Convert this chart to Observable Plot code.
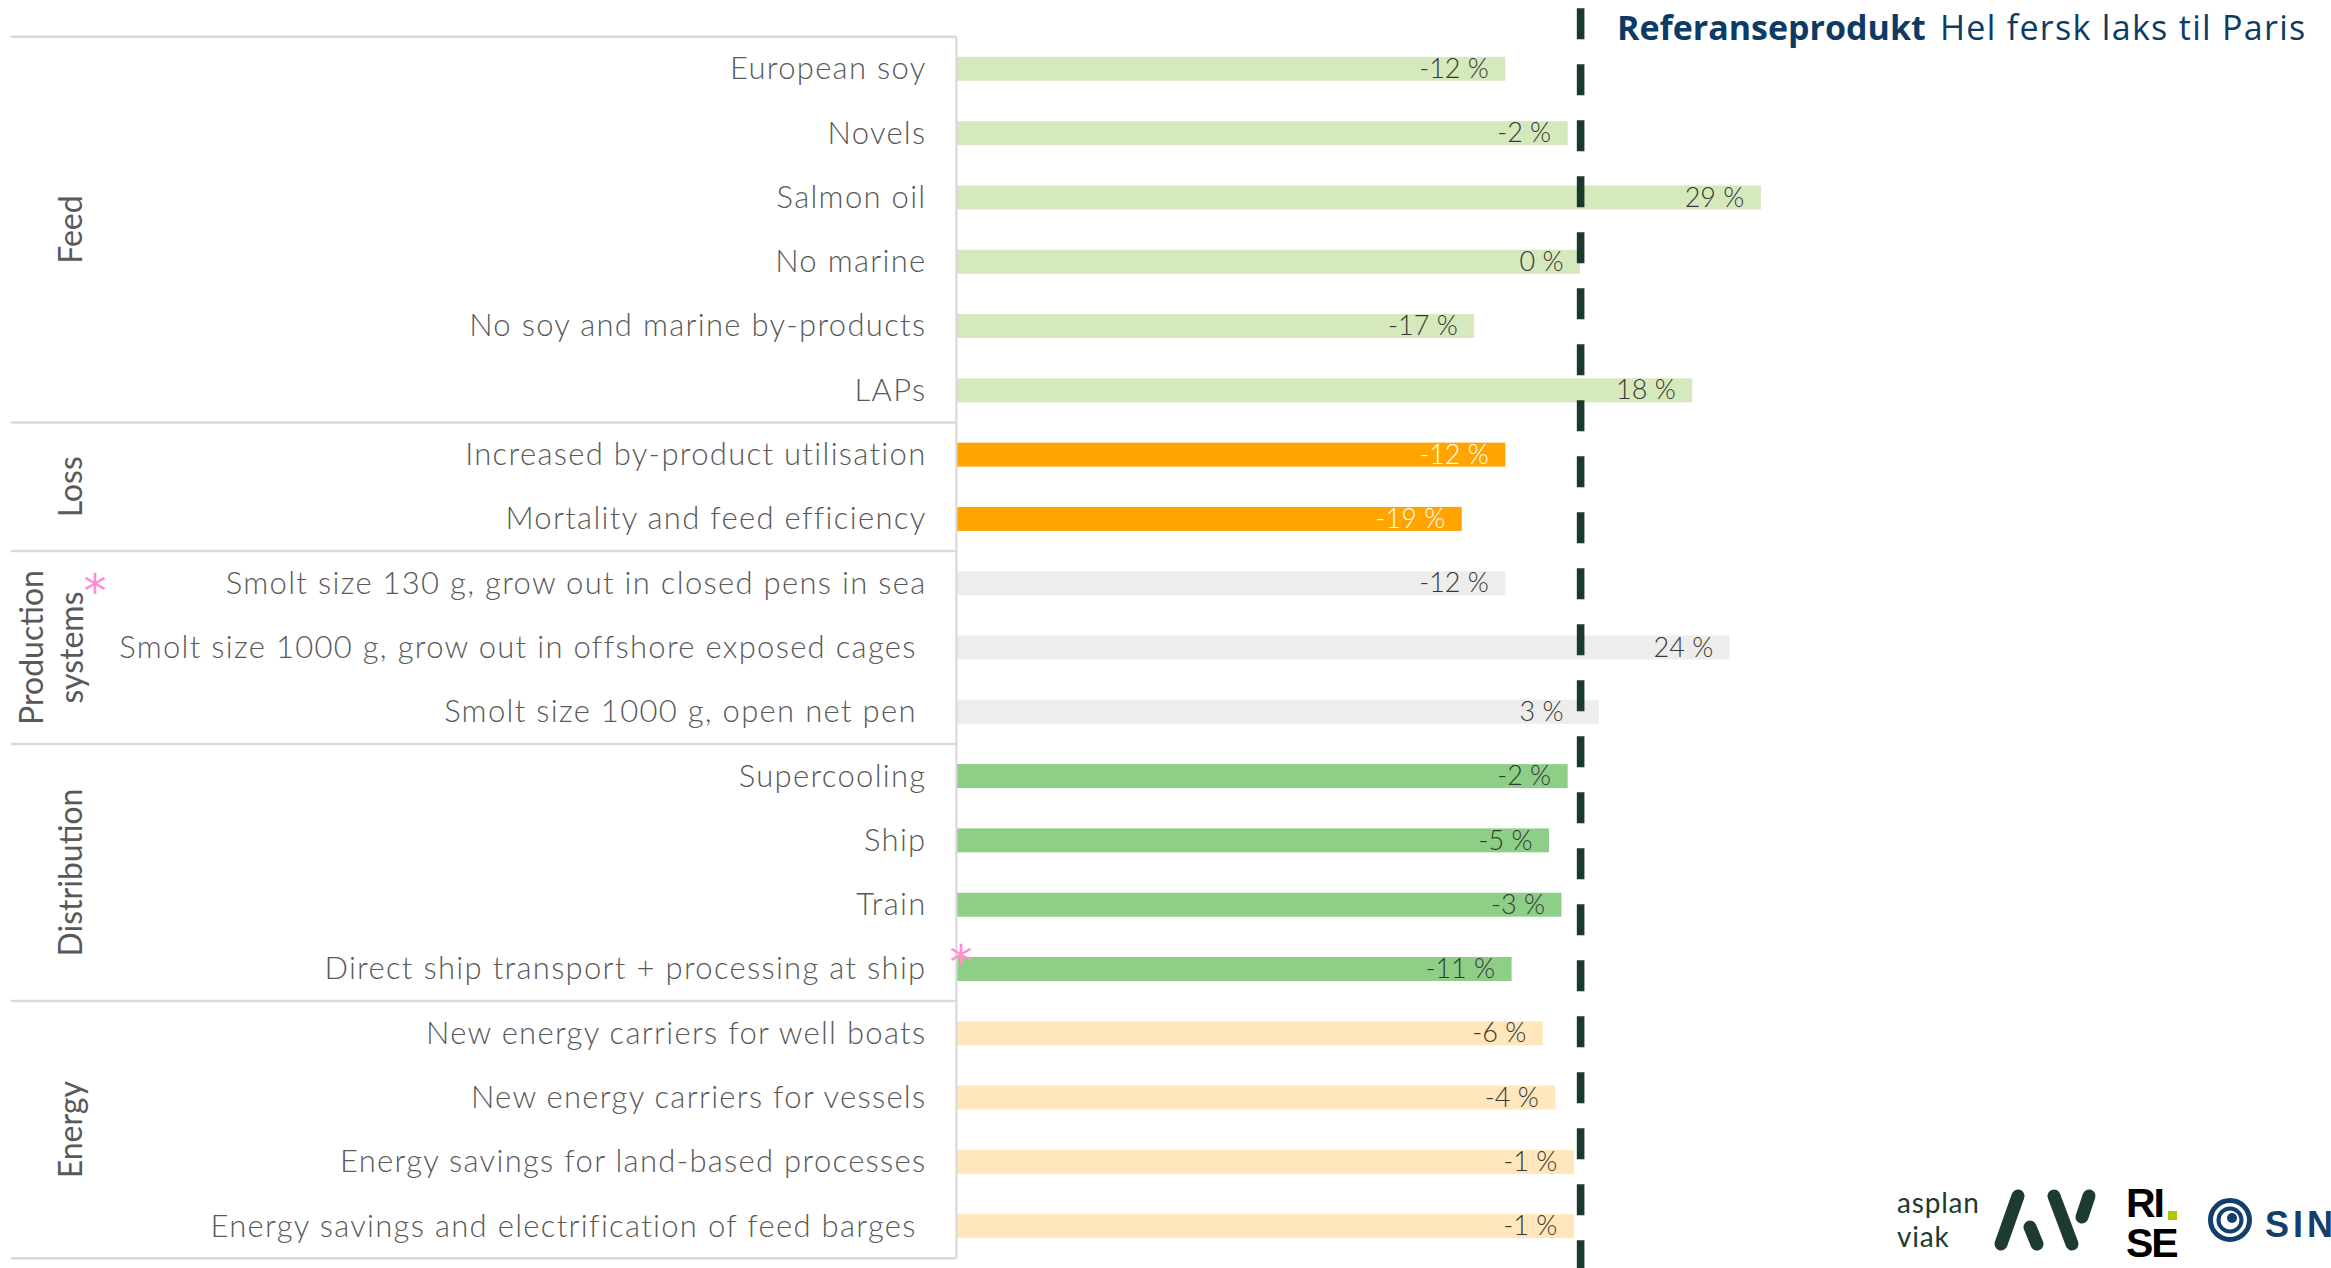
<!DOCTYPE html>
<html><head><meta charset="utf-8">
<script src="https://cdn.jsdelivr.net/npm/d3@7"></script>
<script src="https://cdn.jsdelivr.net/npm/@observablehq/plot@0.6"></script>
<style>
html,body{margin:0;padding:0;background:#fff;}
#chart{position:relative;width:2331px;height:1268px;overflow:hidden;}
svg text{white-space:pre;}
</style></head><body><div id="chart"></div>
<script>
// ---- data ----
const groups = ["Feed", "Loss", "Production systems", "Distribution", "Energy"];
const groupSizes = [6, 2, 3, 4, 4];
const measures = [
  "European soy",
  "Novels",
  "Salmon oil",
  "No marine",
  "No soy and marine by-products",
  "LAPs",
  "Increased by-product utilisation",
  "Mortality and feed efficiency",
  "Smolt size 130 g, grow out in closed pens in sea",
  "Smolt size 1000 g, grow out in offshore exposed cages ",
  "Smolt size 1000 g, open net pen ",
  "Supercooling",
  "Ship",
  "Train",
  "Direct ship transport + processing at ship",
  "New energy carriers for well boats",
  "New energy carriers for vessels",
  "Energy savings for land-based processes",
  "Energy savings and electrification of feed barges "
];
const changes = [-12, -2, 29, 0, -17, 18, -12, -19, -12, 24, 3, -2, -5, -3, -11, -6, -4, -1, -1];
const starred = ["Production systems", "Direct ship transport + processing at ship"];
const referenceLevel = 100;
const titleBold = "Referanseprodukt";
const titleRest = "Hel fersk laks til Paris";

// ---- build table ----
const rowGroup = groups.flatMap((g, i) => Array(groupSizes[i]).fill(g));
const data = measures.map((m, i) => ({measure: m, group: rowGroup[i], change: changes[i], level: referenceLevel + changes[i]}));
// labels of bars ending just past the reference line are kept left of the line
const labelAt = d => (d.level > referenceLevel && d.level < referenceLevel + 5) ? referenceLevel : d.level;

const W = 2331, H = 1268;
const labelGrey = "#595959";
const plot = Plot.plot({
  width: W, height: H,
  marginLeft: 957, marginRight: 0, marginTop: 36.7, marginBottom: 9.7,
  style: {fontFamily: "Lato, sans-serif", background: "white", overflow: "visible"},
  x: {domain: [0, 220.5], axis: null},
  y: {domain: measures, axis: null, paddingInner: 0.627, paddingOuter: 0.3135, round: false},
  color: {domain: groups, range: ["#d5e9bd", "#ffa400", "#edeeeb", "#8dcf86", "#ffe6bb"]},
  marks: [
    Plot.barX(data, {x: "level", y: "measure", fill: "group"}),
    Plot.ruleX([0], {stroke: "#d9d9d9", strokeWidth: 2.2, dx: -1.1}),
    Plot.ruleX([referenceLevel], {stroke: "#1b3a2f", strokeWidth: 7.6, strokeDasharray: "31,25", insetTop: -28.4, insetBottom: -12}),
    Plot.text(data, {x: 0, y: "measure", text: "measure", textAnchor: "end", dx: -31, fontSize: 31, fontWeight: 300, fill: labelGrey}),
    Plot.text(data.filter(d => d.group !== "Loss"), {x: labelAt, y: "measure", text: d => `${d.change} %`, textAnchor: "end", dx: -17, fontSize: 27, fontWeight: 300, fill: "#383838"}),
    Plot.text(data.filter(d => d.group === "Loss"), {x: labelAt, y: "measure", text: d => `${d.change} %`, textAnchor: "end", dx: -17, fontSize: 27, fontWeight: 300, fill: "#ffffff"})
  ]
});
document.getElementById("chart").appendChild(plot);

const svg = d3.select(plot);
const measureSet = new Set(measures);
svg.selectAll("text").filter(function() { return measureSet.has(this.textContent); })
  .style("letter-spacing", "1.3px");

// ---- group separators & labels (positions from the y scale) ----
const ys = plot.scale("y");
const pad = (ys.step - ys.bandwidth) / 2;
let idx = 0;
const bounds = groups.map((g, i) => {
  const first = measures[idx], last = measures[idx + groupSizes[i] - 1];
  idx += groupSizes[i];
  return {g, top: ys.apply(first) - pad, bottom: ys.apply(last) + ys.bandwidth + pad, first};
});
const sepY = [bounds[0].top, ...bounds.map(b => b.bottom)];
const gSep = svg.append("g");
sepY.forEach(y => gSep.append("line").attr("x1", 11).attr("x2", 956).attr("y1", y).attr("y2", y)
  .attr("stroke", "#d9d9d9").attr("stroke-width", 2.5));

const gLab = svg.append("g").attr("font-family", "Lato, sans-serif").attr("font-size", 32).attr("fill", labelGrey);
bounds.forEach(b => {
  const mid = (b.top + b.bottom) / 2;
  const words = b.g === "Production systems" ? ["Production", "systems"] : [b.g];
  const baseX = words.length === 1 ? [82] : [43, 83];
  words.forEach((w, k) => {
    gLab.append("text").attr("transform", `translate(${baseX[k]},${mid}) rotate(-90)`)
      .attr("text-anchor", "middle").text(w);
  });
});

// asterisks
const gStar = svg.append("g").attr("font-family", "'DejaVu Sans', sans-serif").attr("font-size", 46).attr("fill", "#ff8fd2").attr("text-anchor", "middle");
const prod = bounds.find(b => b.g === starred[0]);
gStar.append("text").attr("x", 95).attr("y", prod.top + 31 + 25).text("*");
const dRow = ys.apply(starred[1]);
gStar.append("text").attr("x", 961).attr("y", dRow - 4 + 25).text("*");

// ---- title ----
const t = svg.append("text").attr("x", 1617).attr("y", 40).attr("text-anchor", "start").attr("font-family", "'Open Sans', sans-serif")
  .attr("font-size", 34).attr("fill", "#0e3b64");
t.append("tspan").attr("font-weight", 700).text(titleBold);
t.append("tspan").attr("font-weight", 400).attr("dx", 4).attr("letter-spacing", 1.3).text(" " + titleRest);

// ---- logos ----
const lg = svg.append("g").attr("text-anchor", "start");
const green = "#1d3b30";
const av = lg.append("text").attr("font-family", "Lato, sans-serif").attr("font-size", 28).attr("letter-spacing", 0.8).attr("fill", green);
av.append("tspan").attr("x", 1897).attr("y", 1213).text("asplan");
av.append("tspan").attr("x", 1897).attr("y", 1247).text("viak");
[[2018, 1196, 2001, 1244], [2030, 1227, 2037, 1244], [2054, 1196, 2072, 1244], [2089, 1196, 2082, 1217]].forEach(s =>
  lg.append("line").attr("x1", s[0]).attr("y1", s[1]).attr("x2", s[2]).attr("y2", s[3])
    .attr("stroke", green).attr("stroke-width", 13).attr("stroke-linecap", "round"));
const rise = lg.append("text").attr("font-family", "'Liberation Sans', sans-serif").attr("font-weight", 700)
  .attr("font-size", 41).attr("letter-spacing", -2).attr("fill", "#000");
rise.append("tspan").attr("x", 2126).attr("y", 1217).text("RI");
rise.append("tspan").attr("x", 2126).attr("y", 1257).text("SE");
lg.append("rect").attr("x", 2168).attr("y", 1211).attr("width", 9).attr("height", 9).attr("fill", "#b2c600");
const blue = "#123f6c";
lg.append("circle").attr("cx", 2230).attr("cy", 1220).attr("r", 19.5).attr("fill", "none").attr("stroke", blue).attr("stroke-width", 5);
lg.append("circle").attr("cx", 2230).attr("cy", 1220).attr("r", 11.5).attr("fill", "none").attr("stroke", blue).attr("stroke-width", 4);
lg.append("circle").attr("cx", 2232).attr("cy", 1218).attr("r", 5).attr("fill", blue);
lg.append("text").attr("x", 2265).attr("y", 1237).attr("font-family", "'Liberation Sans', sans-serif").attr("font-weight", 700)
  .attr("font-size", 36).attr("letter-spacing", 4).attr("fill", blue).text("SINTEF");
</script>
</body></html>
